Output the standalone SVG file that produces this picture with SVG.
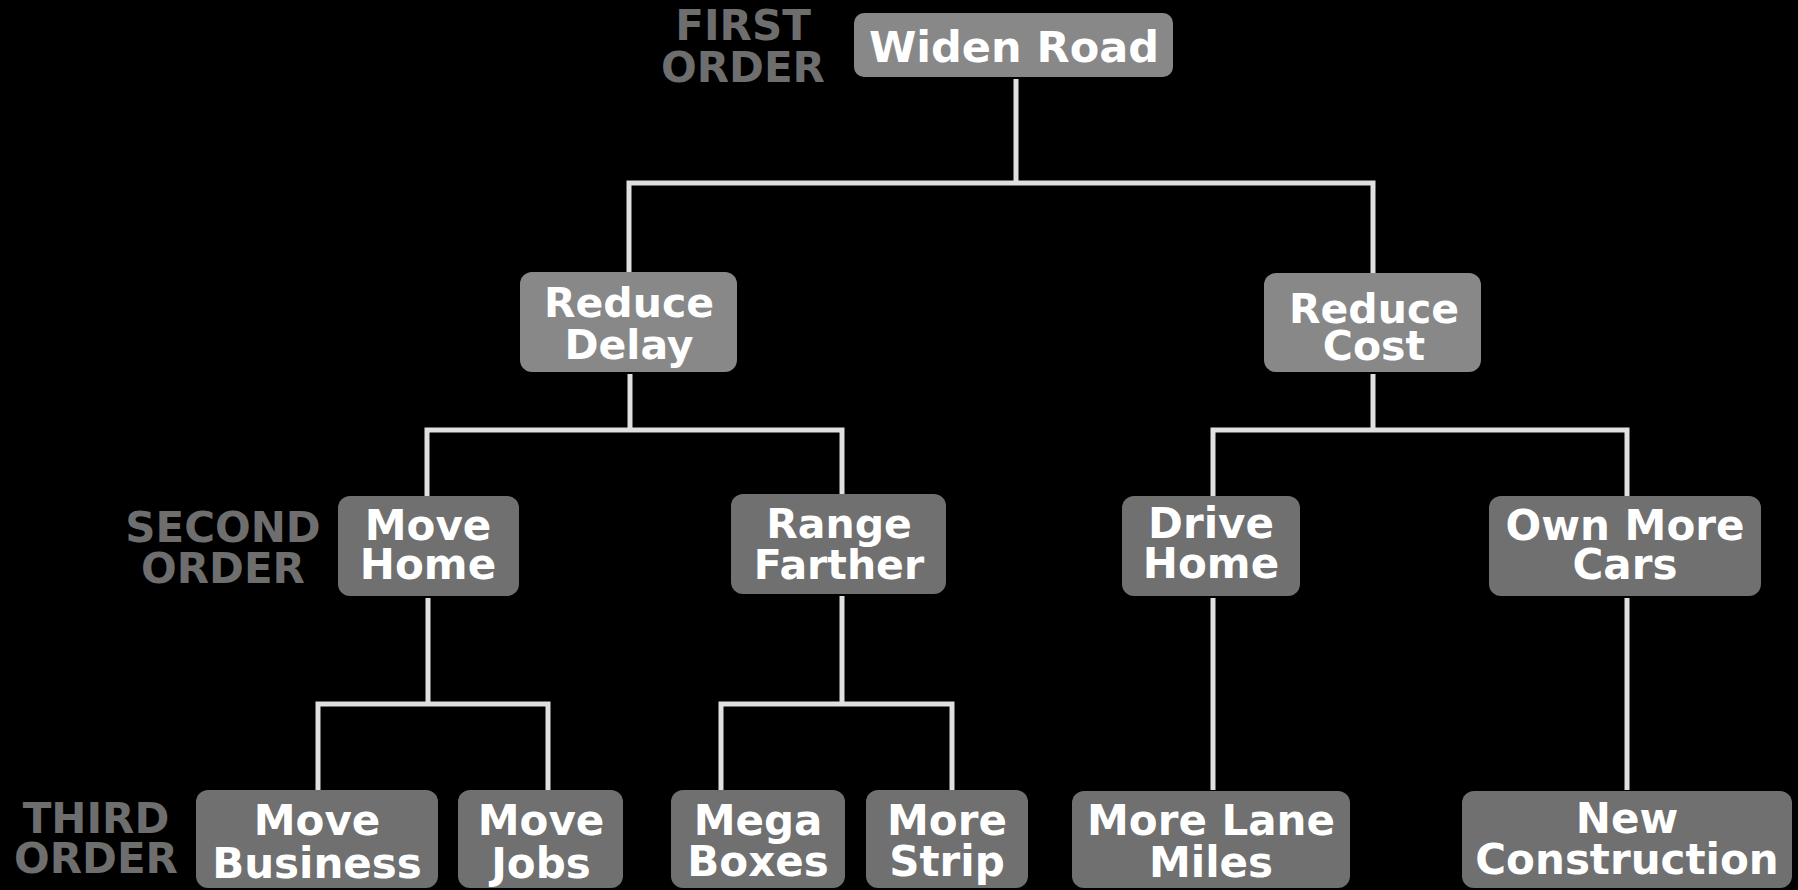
<svg xmlns="http://www.w3.org/2000/svg" width="1798" height="890" viewBox="0 0 1798 890">
  <style>
    .bg { fill: #000000; }
    .light { fill: #888888; }
    .dark { fill: #6f706f; }
    .label { font-family: "DejaVu Sans", Verdana, sans-serif; font-weight: bold; fill: #ffffff; text-anchor: middle; }
    .order { font-family: "DejaVu Sans", Verdana, sans-serif; font-weight: bold; fill: #6e6e6e; text-anchor: middle; font-size: 42px; }
    .wire { fill: none; stroke: #e0e0e0; stroke-width: 5; stroke-linejoin: miter; }
  </style>

  <rect class="bg" x="0" y="0" width="1798" height="890"/>

  <!-- level captions -->
  <g id="captions">
    <text class="order" x="743" y="40">FIRST<tspan x="743" y="82">ORDER</tspan></text>
    <text class="order" x="223" y="542">SECOND<tspan x="223" y="583">ORDER</tspan></text>
    <text class="order" x="96" y="833">THIRD<tspan x="96" y="873">ORDER</tspan></text>
  </g>

  <!-- tree connectors -->
  <g id="connectors" class="wire">
    <path d="M1016 79 V183"/>
    <path d="M629 272 V183 H1373 V273"/>
    <path d="M630 374 V430"/>
    <path d="M427 496 V430 H842 V494"/>
    <path d="M1373 374 V430"/>
    <path d="M1213 496 V430 H1627 V496"/>
    <path d="M428 598 V704"/>
    <path d="M318 790 V704 H548 V790"/>
    <path d="M842 596 V704"/>
    <path d="M721 790 V704 H952 V790"/>
    <path d="M1213 598 V790"/>
    <path d="M1627 598 V790"/>
  </g>

  <!-- first order -->
  <g id="widen-road">
    <rect class="light" x="854" y="13" width="319" height="64" rx="10"/>
    <text class="label" x="1014" y="62" font-size="43">Widen Road</text>
  </g>

  <!-- second order, upper row -->
  <g id="reduce-delay">
    <rect class="light" x="520" y="272" width="217" height="100" rx="12"/>
    <text class="label" x="629" y="317" font-size="41">Reduce<tspan x="629" y="359">Delay</tspan></text>
  </g>
  <g id="reduce-cost">
    <rect class="light" x="1264" y="273" width="217" height="99" rx="12"/>
    <text class="label" x="1374" y="323" font-size="41">Reduce<tspan x="1374" y="360">Cost</tspan></text>
  </g>

  <!-- second order, lower row -->
  <g id="move-home">
    <rect class="dark" x="338" y="496" width="181" height="100" rx="12"/>
    <text class="label" x="428" y="540" font-size="42">Move<tspan x="428" y="579">Home</tspan></text>
  </g>
  <g id="range-farther">
    <rect class="dark" x="731" y="494" width="215" height="100" rx="12"/>
    <text class="label" x="839" y="538" font-size="41">Range<tspan x="839" y="579">Farther</tspan></text>
  </g>
  <g id="drive-home">
    <rect class="dark" x="1122" y="496" width="178" height="100" rx="12"/>
    <text class="label" x="1211" y="538" font-size="42">Drive<tspan x="1211" y="578">Home</tspan></text>
  </g>
  <g id="own-more-cars">
    <rect class="dark" x="1489" y="496" width="272" height="100" rx="12"/>
    <text class="label" x="1625" y="540" font-size="42">Own More<tspan x="1625" y="579">Cars</tspan></text>
  </g>

  <!-- third order -->
  <g id="move-business">
    <rect class="dark" x="196" y="790" width="242" height="98" rx="12"/>
    <text class="label" x="317" y="835" font-size="42">Move<tspan x="317" y="878">Business</tspan></text>
  </g>
  <g id="move-jobs">
    <rect class="dark" x="458" y="790" width="165" height="98" rx="12"/>
    <text class="label" x="541" y="835" font-size="42">Move<tspan x="541" y="878">Jobs</tspan></text>
  </g>
  <g id="mega-boxes">
    <rect class="dark" x="671" y="790" width="174" height="98" rx="12"/>
    <text class="label" x="758" y="835" font-size="42">Mega<tspan x="758" y="876">Boxes</tspan></text>
  </g>
  <g id="more-strip">
    <rect class="dark" x="866" y="790" width="162" height="98" rx="12"/>
    <text class="label" x="947" y="835" font-size="42">More<tspan x="947" y="876">Strip</tspan></text>
  </g>
  <g id="more-lane-miles">
    <rect class="dark" x="1072" y="791" width="278" height="97" rx="12"/>
    <text class="label" x="1211" y="835" font-size="42">More Lane<tspan x="1211" y="877">Miles</tspan></text>
  </g>
  <g id="new-construction">
    <rect class="dark" x="1462" y="791" width="330" height="97" rx="12"/>
    <text class="label" x="1627" y="833" font-size="42">New<tspan x="1627" y="874">Construction</tspan></text>
  </g>
</svg>
